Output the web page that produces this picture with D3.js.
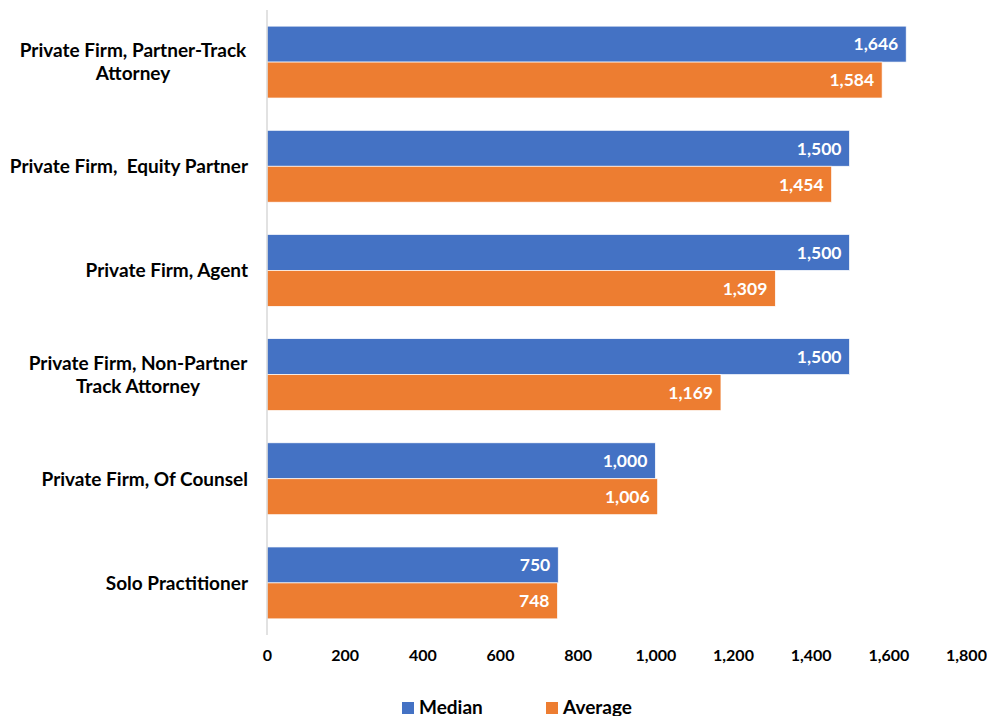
<!DOCTYPE html>
<html>
<head>
<meta charset="utf-8">
<script src="https://cdn.jsdelivr.net/npm/d3@7"></script>
<style>
  body { margin: 0; background: #fff; }
  text { font-family: Lato, "Open Sans", sans-serif; font-weight: bold; }
</style>
</head>
<body>
<div id="vis1"></div>
<script>
const WIDTH = 987;
const HEIGHT = 716;
const MARG = {left : 267, right : 21, top : 10, bottom : 81};

const categories = [
    ["Private Firm, Partner-Track", "Attorney"],
    ["Private Firm,  Equity Partner"],
    ["Private Firm, Agent"],
    ["Private Firm, Non-Partner", "Track Attorney"],
    ["Private Firm, Of Counsel"],
    ["Solo Practitioner"]
];
const seriesNames = ["Median", "Average"];
const median = [1646, 1500, 1500, 1500, 1000, 750];
const average = [1584, 1454, 1309, 1169, 1006, 748];
const ticks = [0, 200, 400, 600, 800, 1000, 1200, 1400, 1600, 1800];
const colors = ["#4472C4", "#ED7D31"];

const VIS_WIDTH = WIDTH - MARG.left - MARG.right;
const VIS_HEIGHT = HEIGHT - MARG.top - MARG.bottom;

const svg = d3.select("#vis1").append("svg")
    .attr("width", WIDTH)
    .attr("height", HEIGHT);

const g = svg.append("g").attr("transform", "translate(" + MARG.left + "," + MARG.top + ")");

const X_SCALE = d3.scaleLinear().domain([0, 1800]).range([0, VIS_WIDTH]);
const Y_SCALE = d3.scaleBand().domain(d3.range(categories.length))
    .range([0, VIS_HEIGHT]).paddingInner(0.31).paddingOuter(0.155);
const SUB = d3.scaleBand().domain([0, 1]).range([0, Y_SCALE.bandwidth()]);

const fmt = d3.format(",");
const series = [median, average];

// bars
series.forEach((vals, s) => {
    g.selectAll(".bar" + s)
        .data(vals)
        .enter().append("rect")
        .attr("x", 0)
        .attr("y", (d, i) => Y_SCALE(i) + SUB(s))
        .attr("width", d => X_SCALE(d))
        .attr("height", SUB.bandwidth())
        .attr("fill", colors[s])
        .attr("stroke", "#fff")
        .attr("stroke-width", 0.7);

    g.selectAll(".lab" + s)
        .data(vals)
        .enter().append("text")
        .attr("x", d => X_SCALE(d) - 8)
        .attr("y", (d, i) => Y_SCALE(i) + SUB(s) + SUB.bandwidth() / 2)
        .attr("dy", "0.36em")
        .attr("text-anchor", "end")
        .attr("fill", "#fff")
        .style("font-size", "17.5px")
        .text(d => fmt(d));
});

// y axis line
g.append("line")
    .attr("x1", 0).attr("x2", 0)
    .attr("y1", 0).attr("y2", VIS_HEIGHT)
    .attr("stroke", "#d9d9d9").attr("stroke-width", 1.5);

// category labels (two-line ones are centred)
const centreX = {0: -134, 3: -129};
categories.forEach((lines, i) => {
    const cy = Y_SCALE(i) + Y_SCALE.bandwidth() / 2;
    const multi = lines.length > 1;
    const t = g.append("text")
        .attr("text-anchor", multi ? "middle" : "end")
        .attr("fill", "#000")
        .style("font-size", "19px")
        .style("white-space", "pre");
    lines.forEach((ln, k) => {
        t.append("tspan")
            .attr("x", multi ? centreX[i] : -19)
            .attr("y", cy + (k - (lines.length - 1) / 2) * 23)
            .attr("dy", "0.36em")
            .text(ln);
    });
});

// x axis ticks
const xAxis = g.append("g")
    .attr("transform", "translate(0," + VIS_HEIGHT + ")")
    .call(d3.axisBottom(X_SCALE).tickValues(ticks).tickSize(0).tickPadding(15).tickFormat(fmt));
xAxis.select(".domain").remove();
xAxis.selectAll("text")
    .style("font-size", "16px")
    .style("font-family", "Lato, 'Open Sans', sans-serif")
    .style("font-weight", "bold")
    .attr("fill", "#000");

// legend
const legendX = [402, 546];
seriesNames.forEach((name, s) => {
    svg.append("rect")
        .attr("x", legendX[s]).attr("y", 702)
        .attr("width", 12).attr("height", 12)
        .attr("fill", colors[s]);
    svg.append("text")
        .attr("x", legendX[s] + 17).attr("y", 707)
        .attr("dy", "0.36em")
        .attr("fill", "#000")
        .style("font-size", "19px")
        .text(name);
});
</script>
</body>
</html>
